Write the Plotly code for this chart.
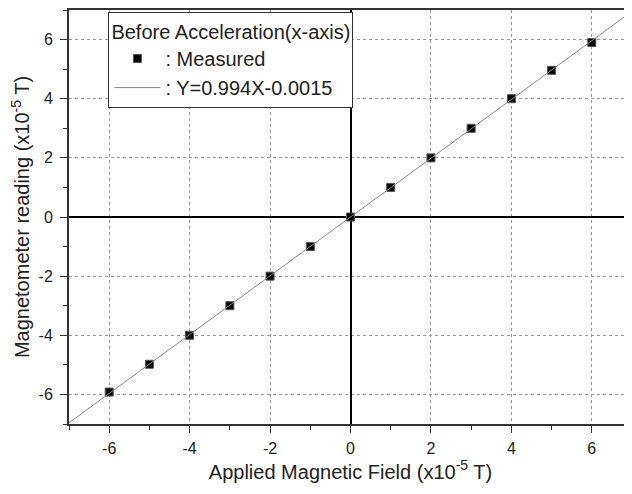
import plotly.graph_objects as go

applied = [-6, -5, -4, -3, -2, -1, 0, 1, 2, 3, 4, 5, 6]
measured = [-5.92, -4.98, -4.0, -3.0, -2.0, -1.0, 0.0, 1.0, 2.0, 3.0, 4.0, 4.96, 5.9]
slope = 0.994
intercept = -0.0015
fit_x = [-7, 7]
fit_y = [slope * v + intercept for v in fit_x]
ticks = [-6, -4, -2, 0, 2, 4, 6]
tick_labels = ["-6", "-4", "-2", "0", "2", "4", "6"]

fig = go.Figure()
fig.add_trace(go.Scatter(x=applied, y=measured, mode="markers", name=": Measured",
                         marker=dict(symbol="square", size=8, color="black",
                                     line=dict(color="#555", width=1))))
fig.add_trace(go.Scatter(x=fit_x, y=fit_y, mode="lines", name=": Y=0.994X-0.0015",
                         line=dict(color="#888", width=1)))

font = "Liberation Sans, Arial, sans-serif"
axis_common = dict(range=[-7, 7], tickvals=ticks, ticktext=tick_labels, showgrid=True,
                   gridcolor="#999", griddash="dot", gridwidth=1, zeroline=True,
                   zerolinecolor="black", zerolinewidth=2, showline=True,
                   linecolor="#333", linewidth=2, mirror=True, ticks="outside",
                   ticklen=7, tickcolor="#333", automargin=False,
                   tickfont=dict(size=16, color="#222", family=font),
                   minor=dict(dtick=1, ticks="outside", ticklen=4, tickcolor="#333",
                              showgrid=False))

fig.update_xaxes(**axis_common, ticklabelstandoff=2,
                 title=dict(text="Applied Magnetic Field (x10<sup>-5</sup> T)",
                            font=dict(size=20, color="#222", family=font), standoff=4))
fig.update_yaxes(**axis_common, ticklabelstandoff=4,
                 title=dict(text="Magnetometer reading (x10<sup>-5</sup> T)",
                            font=dict(size=20, color="#222", family=font), standoff=5))

fig.update_layout(
    width=632, height=494,
    margin=dict(l=61, r=8, t=2, b=78),
    plot_bgcolor="white", paper_bgcolor="white",
    font=dict(family=font, color="#222"),
    legend=dict(title=dict(text="Before Acceleration(x-axis)", font=dict(size=20)),
                font=dict(size=20), x=0.07, y=0.995, xanchor="left", yanchor="top",
                bordercolor="#333", borderwidth=1, bgcolor="white",
                itemwidth=46, tracegroupgap=0),
)
fig.write_html("out.html")
